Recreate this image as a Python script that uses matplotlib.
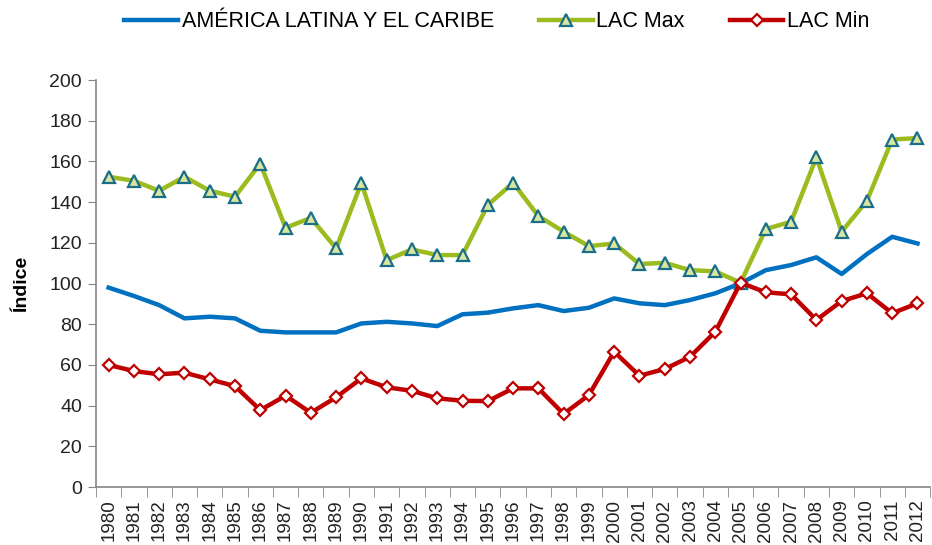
import numpy as np
import matplotlib.pyplot as plt

plt.rcParams['font.family'] = ['Liberation Sans', 'DejaVu Sans']

# Datos
years = [str(y) for y in range(1980, 2013)]
lac = [98, 93.9, 89.4, 82.9, 83.7, 82.9, 76.8, 76, 76, 76, 80.4, 81.2, 80.4, 79.1,
       84.9, 85.7, 87.8, 89.4, 86.5, 88.1, 92.7, 90.3, 89.4, 91.9, 95.2, 100.1,
       106.6, 109.1, 112.9, 104.7, 114.5, 123, 119.7]
lac_max = [152.5, 150.5, 145.6, 152.5, 145.6, 142.7, 159, 127.4, 132.3, 117.3, 149.5,
           111.5, 116.8, 114, 114, 138.6, 149.5, 133.2, 125.5, 118.4, 119.7, 109.6,
           110.2, 106.6, 106, 100.4, 126.8, 130.4, 162, 125.5, 140.7, 170.8, 171.5]
lac_min = [60, 57, 55.4, 56.2, 52.9, 49.6, 37.8, 44.9, 36.5, 44.1, 53.4, 49, 47.3,
           43.6, 42.4, 42.2, 48.5, 48.5, 35.9, 45.2, 66.5, 54.7, 58, 64, 76.3, 100.4,
           95.7, 94.7, 82.1, 91.4, 95.2, 85.4, 90.3]

x = np.arange(len(years))

fig = plt.figure(figsize=(9.32, 5.45), dpi=100)
ax = fig.add_axes([0.103, 0.1064, 0.895, 0.7466])

ax.plot(x, lac, color='#0070C0', lw=3.2, label='AMÉRICA LATINA Y EL CARIBE')
ax.plot(x, lac_max, color='#9BBB1F', lw=3.2, marker='^', markersize=8,
        markerfacecolor='#D8E6A0', markeredgecolor='#1B6E8A', markeredgewidth=1.6,
        label='LAC Max')
ax.plot(x, lac_min, color='#C00000', lw=3.2, marker='D', markersize=6,
        markerfacecolor='white', markeredgecolor='#C00000', markeredgewidth=1.6,
        label='LAC Min')

ax.set_xlim(-0.5, len(years) - 0.5)
ax.set_ylim(0, 200)
ax.set_yticks(range(0, 201, 20))
ax.set_xticks(x)
ax.set_xticklabels(years, rotation=90)
ax.set_xticks(np.arange(-0.5, len(years), 1), minor=True)
ax.tick_params(axis='x', which='major', length=0, pad=9, labelsize=13.5, colors='#222222')
ax.tick_params(axis='x', which='minor', length=7, color='#868686')
ax.tick_params(axis='y', length=6, color='#868686', labelsize=14, labelcolor='#222222', pad=4)

for s in ['top', 'right']:
    ax.spines[s].set_visible(False)
for s in ['left', 'bottom']:
    ax.spines[s].set_color('#868686')
    ax.spines[s].set_linewidth(1.2)

ax.set_ylabel('Índice', fontsize=14, fontweight='bold', labelpad=14)

fig.legend(loc='center', bbox_to_anchor=(0.533, 0.96), ncol=3, frameon=False,
           fontsize=15.5, handlelength=2.5, handletextpad=0.15, columnspacing=2.1)

fig.savefig('out.png', dpi=100)
